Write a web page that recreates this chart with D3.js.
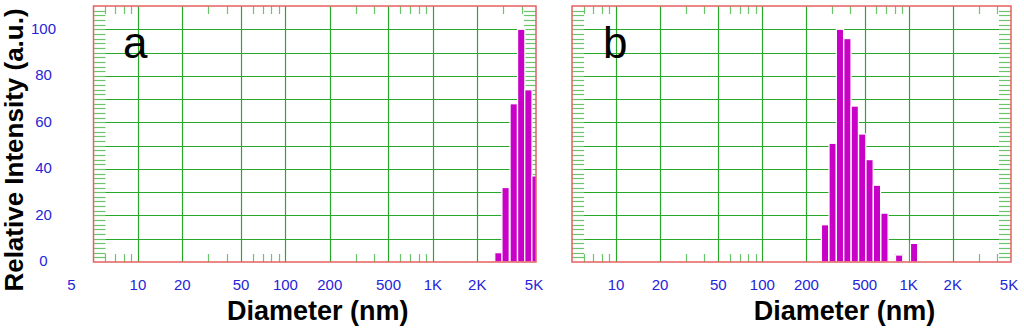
<!DOCTYPE html>
<html lang="en">
  <head>
    <meta charset="UTF-8" />
    <title>Size distribution</title>
    <script src="https://d3js.org/d3.v7.min.js"></script>
    <style>
      body {
        margin: 0;
        background: #fff;
      }
      svg {
        display: block;
      }
    </style>
  </head>
  <body>
    <svg id="chart" width="1024" height="328"></svg>
    <script>
      // x axis (diameter, nm, log scale)
      const xGrid = [10, 20, 50, 100, 200, 500, 1000, 2000];
      const xLabels = [5, 10, 20, 50, 100, 200, 500, 1000, 2000, 5000];
      const xMinor = [6, 7, 8, 9, 30, 40, 60, 70, 80, 90, 300, 400, 600, 700, 800, 900, 3000, 4000];
      // y axis (relative intensity)
      const yGrid = [10, 20, 30, 40, 50, 60, 70, 80, 90, 100];
      const yLabels = [0, 20, 40, 60, 80, 100];
      const yMinor = d3.range(2, 110, 2);

      // panel a: bin centres (nm) and intensities
      const diamA = [2780, 3110, 3530, 3970, 4440, 4960];
      const intensA = [4, 32, 68, 100, 74, 37];
      // panel b
      const diamB = [268, 302, 339, 381, 428, 481, 540, 607, 683, 860, 1088];
      const intensB = [16, 51, 100, 96, 67, 55, 44, 33, 21, 3, 8];

      const binRatio = 1.12;

      const svg = d3.select("#chart");
      const green = "#28a828";
      const red = "#e46262";
      const blue = "#2424d8";
      const fmt = (d) => (d >= 1000 ? d / 1000 + "K" : String(d));

      function drawPanel(opt) {
        const x = d3.scaleLog().domain([5, 5000]).range([opt.left, opt.right]);
        const y = d3.scaleLinear().domain([0, 110]).range([262, 6]);
        const g = svg.append("g");
        const clipId = "clip-" + opt.name;

        g.append("clipPath")
          .attr("id", clipId)
          .append("rect")
          .attr("x", opt.left)
          .attr("y", 6)
          .attr("width", opt.right - opt.left)
          .attr("height", 256);

        // grid
        g.selectAll(".vg")
          .data(xGrid)
          .enter()
          .append("line")
          .attr("x1", (d) => Math.round(x(d)) + 0.5)
          .attr("x2", (d) => Math.round(x(d)) + 0.5)
          .attr("y1", y(110))
          .attr("y2", y(0))
          .attr("stroke", green)
          .attr("stroke-width", 1.2);

        g.selectAll(".hg")
          .data(yGrid)
          .enter()
          .append("line")
          .attr("x1", opt.left)
          .attr("x2", opt.right)
          .attr("y1", (d) => Math.round(y(d)) + 0.5)
          .attr("y2", (d) => Math.round(y(d)) + 0.5)
          .attr("stroke", green)
          .attr("stroke-width", 1.2);

        // minor ticks on all four sides
        g.selectAll(".ym")
          .data(yMinor)
          .enter()
          .append("g")
          .each(function (d) {
            const yy = Math.round(y(d)) + 0.5;
            d3.select(this)
              .append("line")
              .attr("x1", opt.left)
              .attr("x2", opt.left + 12)
              .attr("y1", yy)
              .attr("y2", yy);
            d3.select(this)
              .append("line")
              .attr("x1", opt.right - 12)
              .attr("x2", opt.right)
              .attr("y1", yy)
              .attr("y2", yy);
          })
          .attr("stroke", "#6cc46c")
          .attr("stroke-width", 1.2);

        g.selectAll(".xm")
          .data(xMinor)
          .enter()
          .append("g")
          .each(function (d) {
            const xx = Math.round(x(d)) + 0.5;
            d3.select(this)
              .append("line")
              .attr("x1", xx)
              .attr("x2", xx)
              .attr("y1", y(110))
              .attr("y2", y(110) + 8);
            d3.select(this)
              .append("line")
              .attr("x1", xx)
              .attr("x2", xx)
              .attr("y1", y(0) - 8)
              .attr("y2", y(0));
          })
          .attr("stroke", "#6cc46c")
          .attr("stroke-width", 1.2);

        // bars
        g.append("g")
          .attr("clip-path", `url(#${clipId})`)
          .selectAll("rect")
          .data(opt.diam.map((d, i) => ({ d: d, v: opt.intens[i] })))
          .enter()
          .append("rect")
          .attr("x", (d) => x(d.d / Math.sqrt(binRatio)))
          .attr("width", (d) => x(d.d * Math.sqrt(binRatio)) - x(d.d / Math.sqrt(binRatio)))
          .attr("y", (d) => y(d.v))
          .attr("height", (d) => y(0) - y(d.v))
          .attr("fill", "#c800c8")
          .attr("stroke", "#fff")
          .attr("stroke-width", 1.2);

        // frame
        g.append("rect")
          .attr("x", opt.left)
          .attr("y", 6)
          .attr("width", opt.right - opt.left)
          .attr("height", 256)
          .attr("fill", "none")
          .attr("stroke", red)
          .attr("stroke-width", 1.5);

        // x tick labels
        g.selectAll(".xl")
          .data(opt.showFive ? xLabels : xLabels.slice(1))
          .enter()
          .append("text")
          .attr("x", (d) => (d === 5 ? x(d) - 22 : d === 5000 ? x(d) - 2 : x(d)))
          .attr("y", 290)
          .attr("text-anchor", "middle")
          .attr("font-family", "Liberation Sans, Arial, sans-serif")
          .attr("font-size", 15)
          .attr("fill", blue)
          .text(fmt);

        if (opt.showY) {
          g.selectAll(".yl")
            .data(yLabels)
            .enter()
            .append("text")
            .attr("x", 43.5)
            .attr("y", (d) => y(d) - 1)
            .attr("dy", "0.35em")
            .attr("text-anchor", "middle")
            .attr("font-family", "Liberation Sans, Arial, sans-serif")
            .attr("font-size", 15)
            .attr("fill", blue)
            .text((d) => d);
        }

        g.append("text")
          .attr("x", (opt.left + opt.right) / 2 + opt.titleShift)
          .attr("y", 320)
          .attr("text-anchor", "middle")
          .attr("font-family", "Liberation Sans, Arial, sans-serif")
          .attr("font-weight", "bold")
          .attr("font-size", 27)
          .attr("fill", "#000")
          .text("Diameter (nm)");

        g.append("text")
          .attr("x", opt.letterX)
          .attr("y", 58)
          .attr("font-family", "Liberation Sans, Arial, sans-serif")
          .attr("font-size", 44)
          .attr("fill", "#000")
          .text(opt.name);
      }

      drawPanel({
        name: "a",
        left: 93.5,
        right: 536,
        diam: diamA,
        intens: intensA,
        showFive: true,
        showY: true,
        letterX: 123,
        titleShift: 3,
      });
      drawPanel({
        name: "b",
        left: 572,
        right: 1011,
        diam: diamB,
        intens: intensB,
        showFive: false,
        showY: false,
        letterX: 603,
        titleShift: 53,
      });

      svg
        .append("text")
        .attr("transform", "translate(23,150) rotate(-90)")
        .attr("text-anchor", "middle")
        .attr("font-family", "Liberation Sans, Arial, sans-serif")
        .attr("font-weight", "bold")
        .attr("font-size", 26)
        .attr("fill", "#000")
        .text("Relative Intensity (a.u.)");
    </script>
  </body>
</html>
